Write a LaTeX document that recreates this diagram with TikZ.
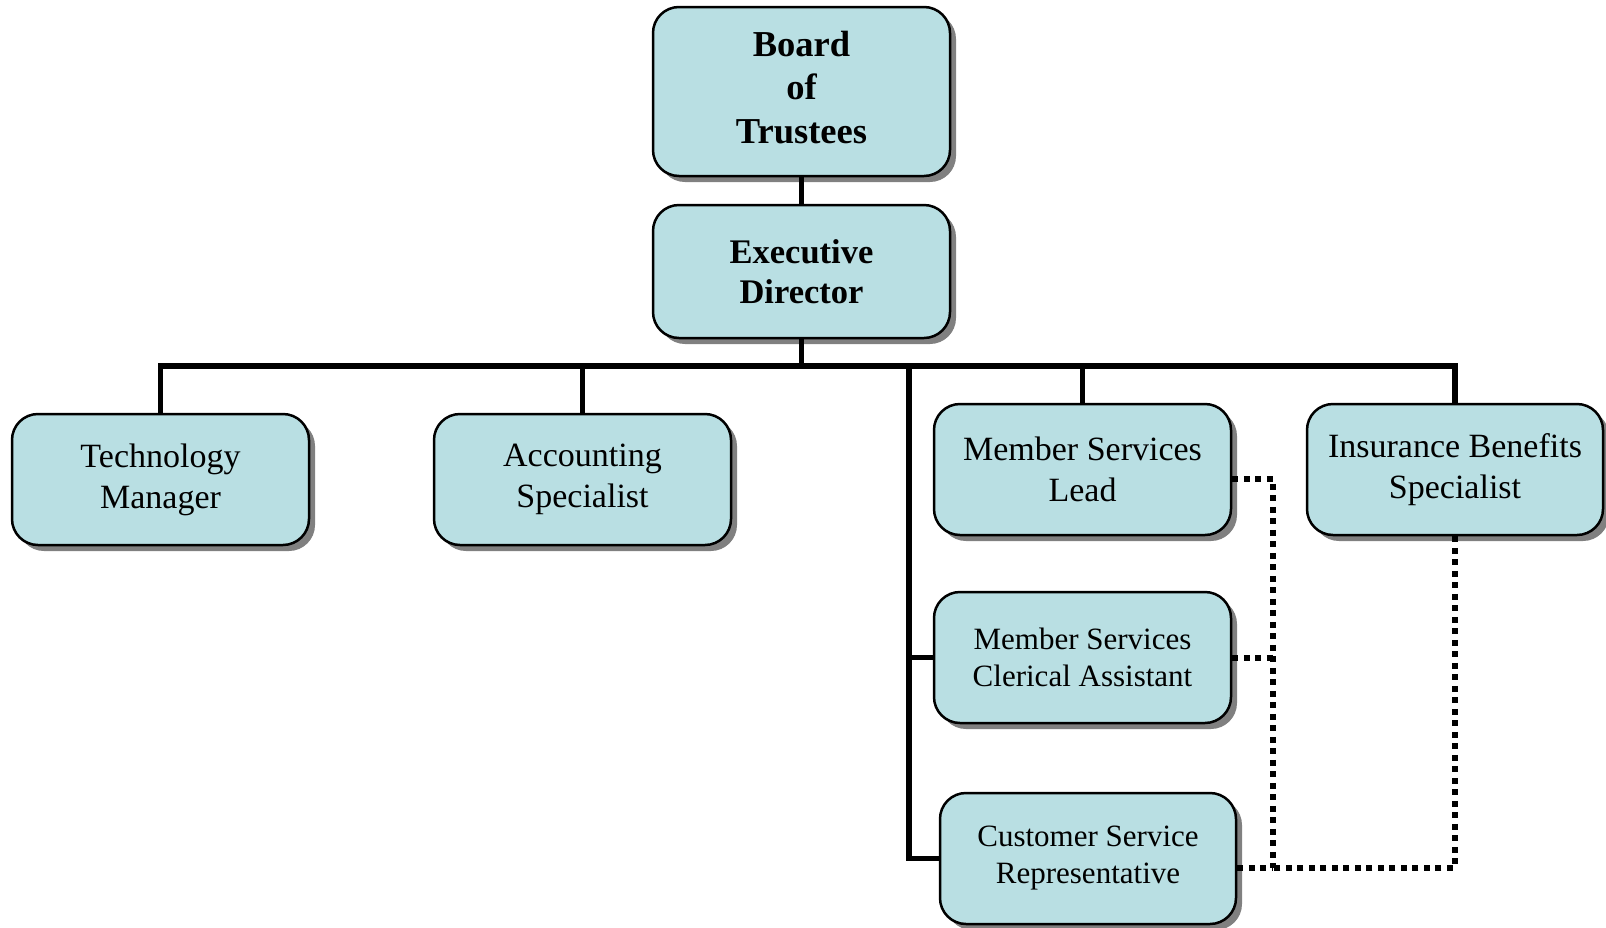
\documentclass[tikz,border=0pt]{standalone}
\usepackage{fontspec}
\setmainfont{Liberation Serif}
\usetikzlibrary{shadows}
\definecolor{boxblue}{RGB}{185,223,227}

\begin{document}
\begin{tikzpicture}[x=1pt,y=-1pt,
    post/.style={draw,line width=2.5pt,fill=boxblue,rounded corners=26pt,
      minimum width=297pt,minimum height=131pt,align=center,inner sep=0pt,
      drop shadow={shadow xshift=6pt,shadow yshift=-6pt,fill=black!50,opacity=1},
      font=\fontsize{34}{41}\selectfont},
    lowpost/.style={post,font=\fontsize{31}{37}\selectfont},
    link/.style={line width=5.5pt},
    dotlink/.style={line width=6pt,dash pattern=on 6pt off 5.5pt}]
   \useasboundingbox (0,0) rectangle (1606,927);
   \node[post,minimum height=169pt,font=\fontsize{36.5}{43.5}\selectfont\bfseries]
     (board) at (801.5,91.5) {Board\\of\\Trustees\rule[-9pt]{0pt}{9pt}};
   \node[post,minimum height=133pt,font=\fontsize{34.5}{40}\selectfont\bfseries]
     (exec) at (801.5,271.5) {Executive\\Director};
   \node[post] (tech) at (160.5,479.5) {Technology\\Manager};
   \node[post] (acct) at (582.5,479.5) {Accounting\\Specialist};
   \node[post] (msl) at (1082.5,469.5) {Member Services\\Lead};
   \node[post,minimum width=296pt] (ins) at (1455,469.5) {Insurance Benefits\\Specialist};
   \node[lowpost] (msca) at (1082.5,657.5) {Member Services\\Clerical Assistant};
   \node[lowpost,minimum width=296pt] (csr) at (1088,858.5) {Customer Service\\Representative};
   \coordinate (bus) at (801.5,366);
   \coordinate (trunk) at (909,366);
   \coordinate (tie) at (1273,867.5);
   % solid lines of report
   \draw[link] (board) -- (exec);
   \draw[link] (exec) -- (bus);
   \draw[link] (tech.north) |- (ins.north |- bus) -- (ins.north);
   \foreach \n in {acct,msl}
    \draw[link] (\n.north) -- (\n.north |- bus);
   \draw[link] (trunk) |- (csr.west);
   \draw[link] (trunk |- msca.west) -- (msca.west);
   % dotted lines
   \draw[dotlink] ([yshift=-9pt]msl.east) -| (tie);
   \draw[dotlink] (msca.east) -- (msca.east -| tie);
   \draw[dotlink] ([yshift=-9pt]csr.east) -- (tie);
   \draw[dotlink] (ins.south) |- (tie);
\end{tikzpicture}
\end{document}
